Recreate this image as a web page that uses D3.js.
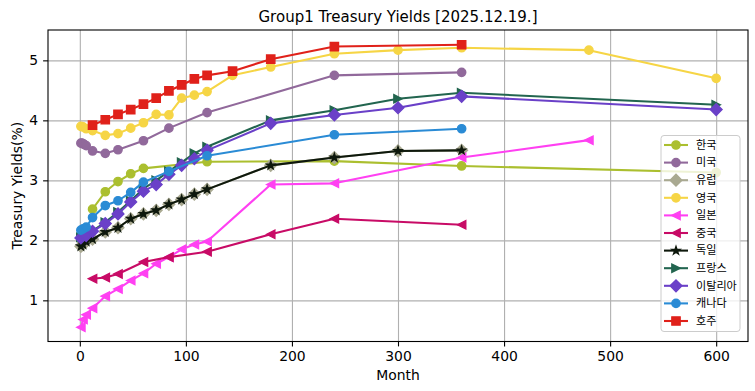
<!DOCTYPE html>
<html>
<head>
<meta charset="utf-8">
<script src="https://cdn.jsdelivr.net/npm/d3@7"></script>
<style>
  body { margin: 0; background: #fff; }
  text { font-family: "DejaVu Sans", sans-serif; fill: #000; }
  .legend-label { font-family: "Noto Sans CJK KR", "DejaVu Sans", sans-serif; }
</style>
</head>
<body>
<div id="vis"></div>
<script>
/*************************** data ************************************/
var countries = ["한국", "미국", "유럽", "영국", "일본", "중국", "독일", "프랑스", "이탈리아", "캐나다", "호주"];
var colors    = ["#abbf2f", "#91699b", "#a9a991", "#f6d545", "#ff40f2", "#c80b66", "#0e180c", "#22654f", "#6a40c8", "#2a8bd5", "#e0211a"];
var markers   = ["circle", "circle", "diamond", "circle", "triLeft", "triLeft", "star", "triRight", "diamond", "circle", "square"];

var korea_m = [12, 24, 36, 48, 60, 120, 240, 360, 600];
var korea_v = [2.52, 2.81, 2.98, 3.11, 3.20, 3.31, 3.32, 3.24, 3.13];

var us_m = [1, 2, 3, 4, 6, 12, 24, 36, 60, 84, 120, 240, 360];
var us_v = [3.62, 3.62, 3.61, 3.60, 3.58, 3.49, 3.45, 3.51, 3.66, 3.87, 4.13, 4.75, 4.80];

var europe_m = [1, 3, 6, 12, 24, 36, 48, 60, 72, 84, 96, 108, 120, 180, 240, 300, 360];
var europe_v = [1.90, 1.93, 1.98, 2.02, 2.14, 2.21, 2.36, 2.44, 2.50, 2.60, 2.68, 2.77, 2.85, 3.25, 3.38, 3.49, 3.50];

var uk_m = [1, 3, 6, 12, 24, 36, 48, 60, 72, 84, 96, 108, 120, 144, 180, 240, 300, 360, 480, 600];
var uk_v = [3.90, 3.89, 3.86, 3.83, 3.75, 3.78, 3.87, 3.96, 4.10, 4.09, 4.37, 4.42, 4.48, 4.75, 4.89, 5.11, 5.17, 5.21, 5.17, 4.70];

var japan_m = [1, 3, 6, 12, 24, 36, 48, 60, 72, 84, 96, 108, 120, 180, 240, 360, 480];
var japan_v = [0.55, 0.68, 0.76, 0.87, 1.07, 1.19, 1.33, 1.45, 1.61, 1.72, 1.85, 1.93, 1.98, 2.93, 2.95, 3.38, 3.67];

var china_m = [12, 24, 36, 60, 84, 120, 180, 240, 360];
var china_v = [1.36, 1.38, 1.44, 1.64, 1.72, 1.81, 2.10, 2.36, 2.26];

var germany_m = [1, 3, 6, 12, 24, 36, 48, 60, 72, 84, 96, 108, 120, 180, 240, 300, 360];
var germany_v = [1.90, 1.93, 1.98, 2.02, 2.14, 2.21, 2.36, 2.44, 2.50, 2.60, 2.68, 2.77, 2.85, 3.25, 3.38, 3.49, 3.50];

var france_m = [1, 3, 6, 12, 24, 36, 48, 60, 72, 84, 96, 108, 120, 180, 240, 300, 360, 600];
var france_v = [2.05, 2.06, 2.10, 2.16, 2.30, 2.47, 2.66, 2.86, 3.00, 3.15, 3.30, 3.45, 3.56, 4.00, 4.17, 4.36, 4.46, 4.26];

var italy_m = [1, 6, 12, 24, 36, 48, 60, 72, 84, 96, 108, 120, 180, 240, 300, 360, 600];
var italy_v = [2.04, 2.08, 2.15, 2.28, 2.44, 2.64, 2.82, 2.93, 3.10, 3.25, 3.36, 3.50, 3.95, 4.09, 4.21, 4.40, 4.18];

var canada_m = [1, 3, 6, 12, 24, 36, 48, 60, 84, 120, 240, 360];
var canada_v = [2.17, 2.19, 2.22, 2.38, 2.58, 2.66, 2.80, 2.97, 3.15, 3.41, 3.76, 3.86];

var australia_m = [12, 24, 36, 48, 60, 72, 84, 96, 108, 120, 144, 180, 240, 360];
var australia_v = [3.92, 4.01, 4.10, 4.18, 4.27, 4.37, 4.49, 4.59, 4.69, 4.75, 4.82, 5.02, 5.23, 5.26];

var x_ticks = [0, 100, 200, 300, 400, 500, 600];
var y_ticks = [1, 2, 3, 4, 5];

var months = [korea_m, us_m, europe_m, uk_m, japan_m, china_m, germany_m, france_m, italy_m, canada_m, australia_m];
var yields = [korea_v, us_v, europe_v, uk_v, japan_v, china_v, germany_v, france_v, italy_v, canada_v, australia_v];

var series = countries.map(function(name, i) {
    return {
        name: name, color: colors[i], marker: markers[i],
        points: months[i].map(function(m, j) { return [m, yields[i][j]]; })
    };
});

/*************************** markers ************************************/
var MS = 8.3; // marker size in px

function marker_path(kind, m) {
    var h = m / 2;
    if (kind === "circle")
        return "M" + h + ",0A" + h + "," + h + " 0 1,1 " + (-h) + ",0A" + h + "," + h + " 0 1,1 " + h + ",0Z";
    if (kind === "square")
        return "M" + (-h) + "," + (-h) + "H" + h + "V" + h + "H" + (-h) + "Z";
    if (kind === "diamond") {
        var d = m * 0.7071;
        return "M0," + (-d) + "L" + d + ",0L0," + d + "L" + (-d) + ",0Z";
    }
    if (kind === "triLeft")
        return "M" + (-h) + ",0L" + h + "," + (-h) + "L" + h + "," + h + "Z";
    if (kind === "triRight")
        return "M" + h + ",0L" + (-h) + "," + (-h) + "L" + (-h) + "," + h + "Z";
    if (kind === "star") {
        var pts = [];
        for (var k = 0; k < 10; k++) {
            var r = (k % 2 === 0) ? h : h * 0.381966;
            var a = -Math.PI / 2 + k * Math.PI / 5;
            pts.push([r * Math.cos(a), r * Math.sin(a)]);
        }
        return "M" + pts.map(function(p) { return p[0].toFixed(2) + "," + p[1].toFixed(2); }).join("L") + "Z";
    }
}

/*************************** chart ************************************/
var W = 755, H = 391;
var margin = {left: 48, right: 7, top: 30, bottom: 49.5};

var svg = d3.select("div#vis").append("svg")
    .attr("width", W)
    .attr("height", H);

var x = d3.scaleLinear().domain([-30, 630]).range([margin.left, W - margin.right]);
var y = d3.scaleLinear().domain([0.314, 5.506]).range([H - margin.bottom, margin.top]);

// grid
svg.append("g")
    .attr("transform", "translate(0," + (H - margin.bottom) + ")")
    .call(d3.axisBottom(x).tickValues(x_ticks).tickSize(-(H - margin.top - margin.bottom)).tickFormat(""))
    .call(function(g) { g.select(".domain").remove(); })
    .selectAll("line").attr("stroke", "#b0b0b0").attr("stroke-width", 1.1);

svg.append("g")
    .attr("transform", "translate(" + margin.left + ",0)")
    .call(d3.axisLeft(y).tickValues(y_ticks).tickSize(-(W - margin.left - margin.right)).tickFormat(""))
    .call(function(g) { g.select(".domain").remove(); })
    .selectAll("line").attr("stroke", "#b0b0b0").attr("stroke-width", 1.1);

// series
var line = d3.line()
    .x(function(d) { return x(d[0]); })
    .y(function(d) { return y(d[1]); });

var sg = svg.selectAll("g.series")
    .data(series)
  .enter().append("g")
    .attr("class", "series");

sg.append("path")
    .attr("d", function(d) { return line(d.points); })
    .attr("fill", "none")
    .attr("stroke", function(d) { return d.color; })
    .attr("stroke-width", 2.08)
    .attr("stroke-linejoin", "round");

sg.each(function(s) {
    d3.select(this).selectAll("path.mk")
        .data(s.points)
      .enter().append("path")
        .attr("class", "mk")
        .attr("d", marker_path(s.marker, MS))
        .attr("transform", function(d) { return "translate(" + x(d[0]) + "," + y(d[1]) + ")"; })
        .attr("fill", s.color)
        .attr("stroke", s.color)
        .attr("stroke-width", 1.39)
        .attr("stroke-linejoin", "miter");
});

// axes
var xa = svg.append("g")
    .attr("transform", "translate(0," + (H - margin.bottom) + ")")
    .call(d3.axisBottom(x).tickValues(x_ticks).tickSize(4.9).tickPadding(4.9).tickFormat(d3.format("d")));
var ya = svg.append("g")
    .attr("transform", "translate(" + margin.left + ",0)")
    .call(d3.axisLeft(y).tickValues(y_ticks).tickSize(4.9).tickPadding(4.9).tickFormat(d3.format("d")));
[xa, ya].forEach(function(a) {
    a.select(".domain").remove();
    a.selectAll("line").attr("stroke", "#000").attr("stroke-width", 1.1);
    a.selectAll("text").attr("font-size", 13.9).attr("font-family", "DejaVu Sans").attr("fill", "#000");
});

svg.append("rect")
    .attr("x", margin.left)
    .attr("y", margin.top)
    .attr("width", W - margin.left - margin.right)
    .attr("height", H - margin.top - margin.bottom)
    .attr("fill", "none")
    .attr("stroke", "#000")
    .attr("stroke-width", 1.1);

// titles
svg.append("text")
    .attr("x", (margin.left + W - margin.right) / 2)
    .attr("y", margin.top - 8.3)
    .attr("text-anchor", "middle")
    .attr("font-size", 15)
    .text("Group1 Treasury Yields [2025.12.19.]");

svg.append("text")
    .attr("x", (margin.left + W - margin.right) / 2)
    .attr("y", 380)
    .attr("text-anchor", "middle")
    .attr("font-size", 13.9)
    .text("Month");

svg.append("text")
    .attr("transform", "translate(22," + ((margin.top + H - margin.bottom) / 2) + ") rotate(-90)")
    .attr("text-anchor", "middle")
    .attr("font-size", 13.9)
    .text("Treasury Yields(%)");

/*************************** legend ************************************/
var lg = svg.append("g").attr("class", "legends");

lg.append("rect")
    .attr("x", 661).attr("y", 135.5)
    .attr("width", 79).attr("height", 196)
    .attr("rx", 3)
    .attr("fill", "#fff").attr("fill-opacity", 0.8)
    .attr("stroke", "#cccccc").attr("stroke-width", 1);

var le = lg.selectAll("g.legend-elem")
    .data(series)
  .enter().append("g")
    .attr("class", "legend-elem")
    .attr("transform", function(d, i) { return "translate(0," + (145 + i * 17.6) + ")"; });

le.append("line")
    .attr("x1", 664).attr("x2", 688)
    .attr("stroke", function(d) { return d.color; })
    .attr("stroke-width", 2.08);

le.append("path")
    .attr("d", function(d) { return marker_path(d.marker, MS); })
    .attr("transform", "translate(676,0)")
    .attr("fill", function(d) { return d.color; })
    .attr("stroke", function(d) { return d.color; })
    .attr("stroke-width", 1.39);

le.append("text")
    .attr("class", "legend-label")
    .attr("x", 696)
    .attr("y", 0)
    .attr("dy", "0.35em")
    .attr("font-size", 11.1)
    .text(function(d) { return d.name; });
</script>
</body>
</html>
